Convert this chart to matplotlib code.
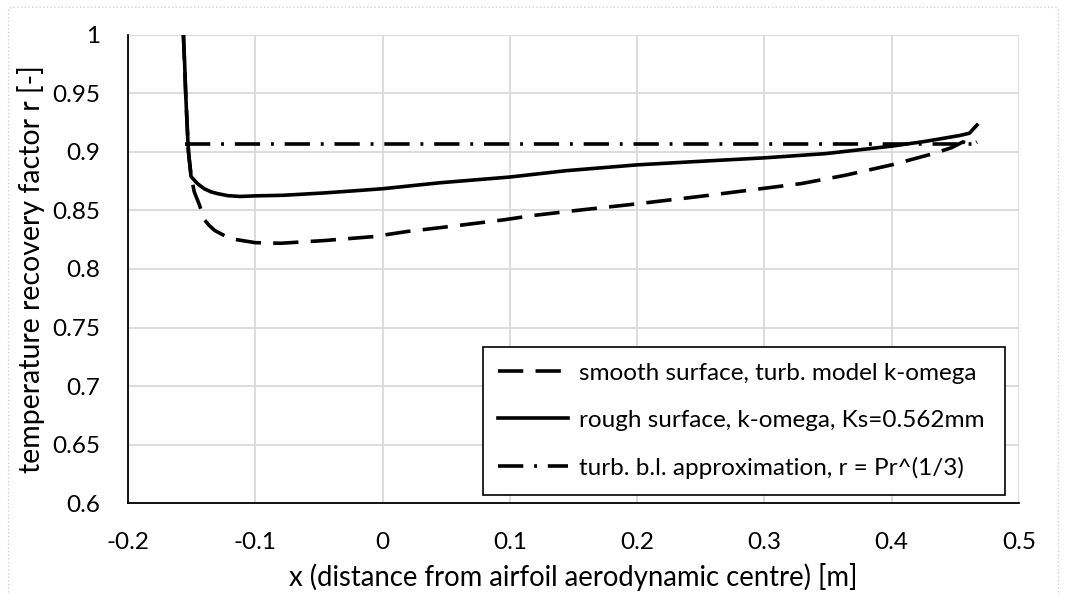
import matplotlib
matplotlib.use('Agg')
import matplotlib.pyplot as plt
from matplotlib.patches import FancyBboxPatch

plt.rcParams['font.family'] = ['Lato', 'DejaVu Sans']

# ── data ────────────────────────────────────────────────────────
rough_x = [-0.1565, -0.1555, -0.1547, -0.1535, -0.1525, -0.1505, -0.1455,
           -0.140, -0.1349, -0.130, -0.1217, -0.112, -0.100, -0.078, -0.046,
           -0.020, 0.000, 0.045, 0.100, 0.144, 0.200, 0.249, 0.300, 0.348,
           0.400, 0.426, 0.453, 0.461, 0.467]
rough_y = [1.000, 0.975, 0.950, 0.920, 0.900, 0.879, 0.873,
           0.8685, 0.866, 0.8645, 0.8627, 0.862, 0.8625, 0.863, 0.865,
           0.867, 0.8686, 0.8737, 0.8786, 0.884, 0.889, 0.892, 0.895, 0.8986,
           0.905, 0.909, 0.914, 0.916, 0.923]

smooth_x = [-0.1565, -0.1547, -0.1525, -0.1505, -0.148, -0.144, -0.140,
            -0.136, -0.132, -0.120, -0.100, -0.080, -0.046, -0.007, 0.019,
            0.058, 0.095, 0.118, 0.152, 0.200, 0.249, 0.300, 0.329, 0.363,
            0.400, 0.434, 0.447, 0.456, 0.463, 0.467]
smooth_y = [1.000, 0.950, 0.900, 0.880, 0.866, 0.855, 0.842,
            0.837, 0.833, 0.826, 0.8225, 0.822, 0.8243, 0.8277, 0.832,
            0.837, 0.842, 0.8457, 0.850, 0.8557, 0.862, 0.869, 0.873, 0.880,
            0.889, 0.899, 0.9037, 0.9086, 0.906, 0.9086]

approx_x = [-0.1556, 0.465]
approx_y = [0.9066, 0.9066]

labels = ['smooth surface, turb. model k-omega',
          'rough surface, k-omega, Ks=0.562mm',
          'turb. b.l. approximation, r = Pr^(1/3)']

x_ticks = [-0.2, -0.1, 0, 0.1, 0.2, 0.3, 0.4, 0.5]
x_ticklabels = ['-0.2', '-0.1', '0', '0.1', '0.2', '0.3', '0.4', '0.5']
y_ticks = [0.6, 0.65, 0.7, 0.75, 0.8, 0.85, 0.9, 0.95, 1.0]
y_ticklabels = ['0.6', '0.65', '0.7', '0.75', '0.8', '0.85', '0.9', '0.95', '1']

# ── figure ──────────────────────────────────────────────────────
fig = plt.figure(figsize=(10.67, 5.95), dpi=100)
fig.patch.set_facecolor('white')
ax = fig.add_axes([0.12, 0.1546, 0.835, 0.7866])

lw = 2.6
ax.plot(smooth_x, smooth_y, color='black', lw=lw, linestyle=(0, (7.0, 3.4)),
        solid_capstyle='butt', dash_capstyle='butt', label=labels[0], zorder=3)
ax.plot(rough_x, rough_y, color='black', lw=lw, linestyle='-',
        label=labels[1], zorder=3)
ax.plot(approx_x, approx_y, color='black', lw=lw,
        linestyle=(0, (7.0, 3.0, 0.8, 3.0)), dash_capstyle='butt',
        label=labels[2], zorder=3)

ax.set_xlim(-0.2, 0.5)
ax.set_ylim(0.6, 1.0)
ax.set_xticks(x_ticks)
ax.set_xticklabels(x_ticklabels)
ax.set_yticks(y_ticks)
ax.set_yticklabels(y_ticklabels)
ax.tick_params(length=0, labelsize=17.5, colors='black')
ax.tick_params(axis='x', pad=21)
ax.tick_params(axis='y', pad=20)

ax.grid(True, color='#d9d9d9', lw=1.3, zorder=0)
ax.set_axisbelow(True)
for s in ['top', 'right']:
    ax.spines[s].set_visible(False)
for s in ['left', 'bottom']:
    ax.spines[s].set_color('black')
    ax.spines[s].set_linewidth(1.3)

ax.set_xlabel('x (distance from airfoil aerodynamic centre) [m]', fontsize=19.8, labelpad=7)
ax.set_ylabel('temperature recovery factor r [-]', fontsize=20.5, labelpad=5)

leg = ax.legend(loc='upper left', bbox_to_anchor=(0.398, 0.3335, 0.586, 0.0),
                mode='expand', fontsize=17.5, frameon=True, fancybox=False,
                framealpha=1, edgecolor='black', handlelength=2.85,
                handletextpad=0.45, labelspacing=1.07, borderaxespad=0,
                borderpad=0.65)
leg.get_frame().set_linewidth(1.2)
leg.set_zorder(5)

# chart-area border (dotted, light grey); runs off the bottom edge
fig.patches.append(FancyBboxPatch((0.008, -0.05), 0.984, 1.038,
                                  boxstyle='round,pad=0,rounding_size=0.006',
                                  transform=fig.transFigure, fill=False,
                                  edgecolor='#d0d0d0', lw=1.0, linestyle=':'))

fig.savefig('out.png', dpi=100, facecolor='white')
